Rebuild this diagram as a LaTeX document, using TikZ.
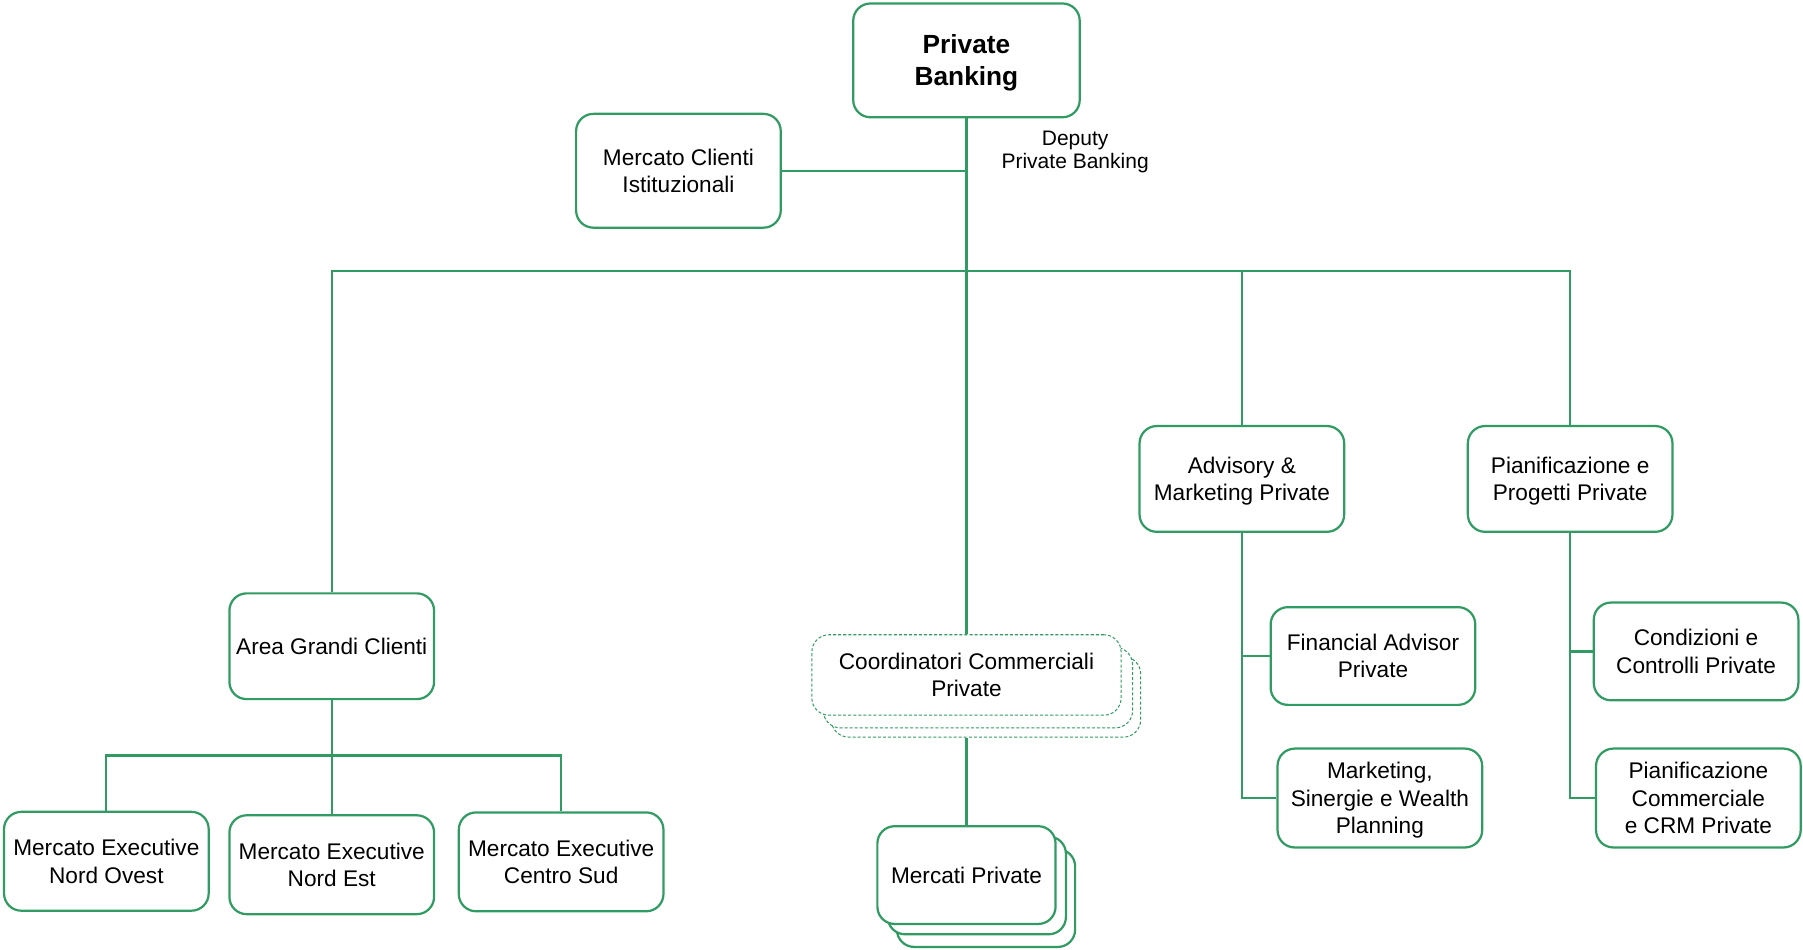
\documentclass[tikz,border=0pt]{standalone}
\usepackage{fontspec}
\setmainfont{Liberation Sans}
\definecolor{pbgreen}{RGB}{50,155,100}
\tikzset{
  unit/.style={draw=pbgreen, line width=1.1pt, rounded corners=0.3cm, fill=white,
    align=center, inner sep=0pt, text depth=0pt, font=\fontsize{11.2}{13.6}\selectfont,
    minimum width=3.56cm, minimum height=1.84cm},
  dotunit/.style={unit, line width=0.5pt, dash pattern=on 1.5pt off 1pt},
  link/.style={draw=pbgreen, line width=1.1pt},
}

\begin{document}
\begin{tikzpicture}[x=0.02cm, y=-0.02cm]
  \useasboundingbox (0,0) rectangle (1568,826);
  \coordinate (bus) at (840,236);
  \coordinate (subbus) at (288,657);

  % head
  \node[unit, minimum width=3.94cm, minimum height=1.98cm,
        font=\fontsize{13}{15.9}\selectfont\bfseries] (pb) at (840.5,52.5) {Private\\Banking};
  \node[unit, minimum height=1.98cm] (mci) at (590,148.5) {Mercato Clienti\\Istituzionali};
  \node[font=\fontsize{10.4}{11.2}\selectfont, align=center] (deputy) at (935,132) {Deputy\\Private Banking};

  % left branch
  \node[unit] (agc) at (288.5,562) {Area Grandi Clienti};
  \node[unit, minimum height=1.72cm] (meno) at (92.5,749) {Mercato Executive\\Nord Ovest};
  \node[unit, minimum height=1.72cm] (mene) at (288.5,752) {Mercato Executive\\Nord Est};
  \node[unit, minimum height=1.72cm] (mecs) at (488,749.5) {Mercato Executive\\Centro Sud};

  % middle stacks
  \node[dotunit, minimum width=5.38cm, minimum height=1.4cm] (coord3) at (857.5,606) {};
  \node[dotunit, minimum width=5.38cm, minimum height=1.4cm] (coord2) at (850.5,598) {};
  \node[dotunit, minimum width=5.38cm, minimum height=1.4cm] (coord) at (840.5,587) {Coordinatori Commerciali\\Private};
  \node[unit, minimum width=3.1cm, minimum height=1.7cm] (mp3) at (857.5,781) {};
  \node[unit, minimum width=3.1cm, minimum height=1.7cm] (mp2) at (849.5,770) {};
  \node[unit, minimum width=3.1cm, minimum height=1.7cm] (mp) at (840.5,761) {Mercati Private};

  % right branches
  \node[unit] (apm) at (1080,416.5) {Advisory \&\\Marketing Private};
  \node[unit] (ppp) at (1365.5,416.5) {Pianificazione e\\Progetti Private};
  \node[unit, minimum height=1.7cm] (fap) at (1194,570.5) {Financial Advisor\\Private};
  \node[unit, minimum height=1.72cm] (mswp) at (1200,694) {Marketing,\\Sinergie e Wealth\\Planning};
  \node[unit, minimum height=1.7cm] (ccp) at (1475,566.5) {Condizioni e\\Controlli Private};
  \node[unit, minimum height=1.72cm] (pccrm) at (1477,694) {Pianificazione\\Commerciale\\e CRM Private};

  % connectors
  \draw[link] (pb.south) -- (coord.north);
  \draw[link] (mci.east) -- (mci.east -| pb.south);
  \draw[link] (agc.north) |- (ppp.north |- bus) -- (ppp.north);
  \draw[link] (apm.north) -- (apm.north |- bus);
  \draw[link] (coord.south |- coord3.south) -- (mp.north);
  \draw[link] (agc.south) -- (mene.north);
  \draw[link] (meno.north) |- (mecs.north |- subbus) -- (mecs.north);
  \draw[link] (apm.south) |- (mswp.west);
  \draw[link] (fap.west) -- (fap.west -| apm.south);
  \draw[link] (ppp.south) |- (pccrm.west);
  \draw[link] (ccp.west) -- (ccp.west -| ppp.south);
\end{tikzpicture}
\end{document}
